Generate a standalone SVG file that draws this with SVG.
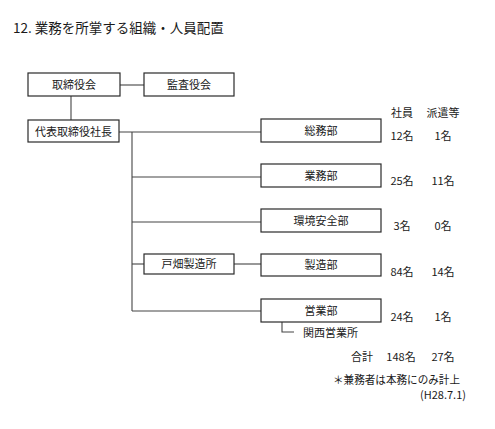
<svg xmlns="http://www.w3.org/2000/svg" width="495" height="429" viewBox="0 0 495 429">
<style>
text{font-family:"Noto Sans CJK JP","Noto Sans",sans-serif;fill:#1a1a1a;font-size:11px}
.t{font-size:13.5px}
.c{text-anchor:middle}
.box{fill:#fff;stroke:#2a2a2a;stroke-width:1.2}
.ln{fill:none;stroke:#444;stroke-width:1.1}
</style>
<rect width="495" height="429" fill="#fff"/>
<text class="t" x="13" y="33">12. 業務を所掌する組織・人員配置</text>
<g id="connectors">
<path class="ln" d="M120,85H144"/>
<path class="ln" d="M71,96V120"/>
<path class="ln" d="M119,132H261"/>
<path class="ln" d="M132,132V311"/>
<path class="ln" d="M132,177H261"/>
<path class="ln" d="M132,222H261"/>
<path class="ln" d="M132,264H144"/>
<path class="ln" d="M234,264H261"/>
<path class="ln" d="M132,311H261"/>
<path class="ln" d="M282,322V332H294"/>
</g>
<g id="torishimariyakukai"><rect class="box" x="28" y="73" width="92" height="23"/><text class="c" x="74" y="89">取締役会</text></g>
<g id="kansayakukai"><rect class="box" x="144" y="73" width="90" height="23"/><text class="c" x="189" y="89">監査役会</text></g>
<g id="shacho"><rect class="box" x="28" y="120" width="91" height="22"/><text class="c" x="73.5" y="135.5">代表取締役社長</text></g>
<g id="somubu"><rect class="box" x="261" y="119" width="120" height="23"/><text class="c" x="321" y="134.5">総務部</text></g>
<g id="gyomubu"><rect class="box" x="261" y="164" width="120" height="23"/><text class="c" x="321" y="179.5">業務部</text></g>
<g id="kankyo"><rect class="box" x="261" y="209" width="120" height="23"/><text class="c" x="321" y="224.5">環境安全部</text></g>
<g id="tobata"><rect class="box" x="144" y="254" width="90" height="20"/><text class="c" x="189" y="268">戸畑製造所</text></g>
<g id="seizobu"><rect class="box" x="261" y="254" width="120" height="22"/><text class="c" x="321" y="269">製造部</text></g>
<g id="eigyobu"><rect class="box" x="261" y="299" width="120" height="23"/><text class="c" x="321" y="314.5">営業部</text></g>
<g id="kansai"><text x="303" y="337">関西営業所</text></g>
<g id="table">
<text class="c" x="402" y="117">社員</text><text class="c" x="443" y="117">派遣等</text>
<text class="c" x="402" y="140">12名</text><text class="c" x="443" y="140">1名</text>
<text class="c" x="402" y="185">25名</text><text class="c" x="443" y="185">11名</text>
<text class="c" x="402" y="230">3名</text><text class="c" x="443" y="230">0名</text>
<text class="c" x="402" y="276">84名</text><text class="c" x="443" y="276">14名</text>
<text class="c" x="402" y="321">24名</text><text class="c" x="443" y="321">1名</text>
<text class="c" x="362" y="361">合計</text><text class="c" x="401" y="361">148名</text><text class="c" x="443" y="361">27名</text>
<text x="333" y="384" textLength="127" lengthAdjust="spacingAndGlyphs">＊兼務者は本務にのみ計上</text>
<text x="420" y="399" font-size="9.5">(H28.7.1)</text>
</g>
</svg>
